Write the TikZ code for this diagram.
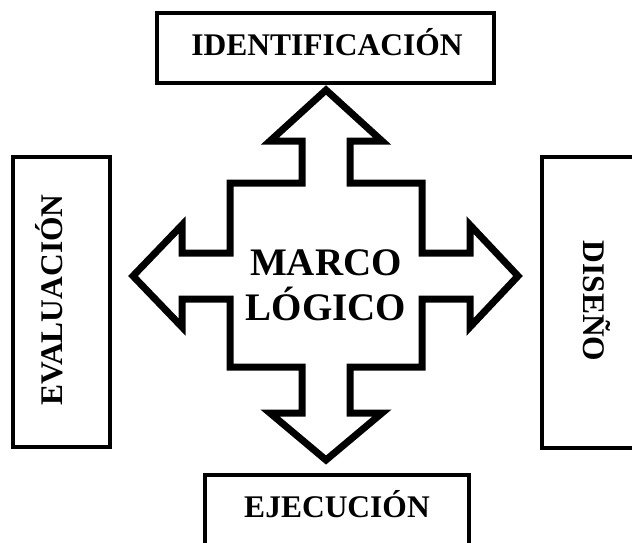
\documentclass[tikz,border=0pt]{standalone}
\usepackage{fontspec}
\setmainfont{Liberation Serif}
\begin{document}
\begin{tikzpicture}[x=1pt, y=-1pt,
    every node/.style={font=\bfseries\fontsize{31.5}{38}\selectfont, inner sep=0pt},
    box/.style={draw, line width=4.5pt, rectangle},
    cross/.style={draw, line width=7pt, line join=miter}]
      \path[use as bounding box, clip] (0,0) rectangle (632,542);

      % boxes
      \node[box, minimum width=337pt, minimum height=70pt] (ident) at (325.5,48) {};
      \node[box, minimum width=97pt, minimum height=290pt] (eval) at (61.5,302) {};
      \node[box, minimum width=98pt, minimum height=291pt] (diseno) at (591,302.5) {};
      \node[box, minimum width=264pt, minimum height=70pt] (ejec) at (337,510) {};

      \node[anchor=base] (identtxt) at (327,55) {IDENTIFICACIÓN};
      \node[anchor=base, rotate=90] (evaltxt) at (62,300) {EVALUACIÓN};
      \node[anchor=base, rotate=-90] (disenotxt) at (583,301) {DISEÑO};
      \node[anchor=base] (ejectxt) at (337,517) {EJECUCIÓN};

      % four way arrow
      \draw[cross] (326,90) -- (382,141) -- (350,141) -- (350,183) -- (422,183)
        -- (422,253) -- (470,253) -- (470,225) -- (518,276) -- (470,327) -- (470,299) -- (422,299)
        -- (422,367) -- (350,367) -- (350,413) -- (382,413) -- (326,460) -- (270,413) -- (302,413) -- (302,367)
        -- (230,367) -- (230,299) -- (182,299) -- (182,327) -- (133,276) -- (182,225) -- (182,253) -- (230,253)
        -- (230,183) -- (302,183) -- (302,141) -- (270,141) -- cycle;

      \node[align=center, font=\bfseries\fontsize{39}{45}\selectfont] (marco) at (326,285) {MARCO\\LÓGICO};
\end{tikzpicture}
\end{document}
